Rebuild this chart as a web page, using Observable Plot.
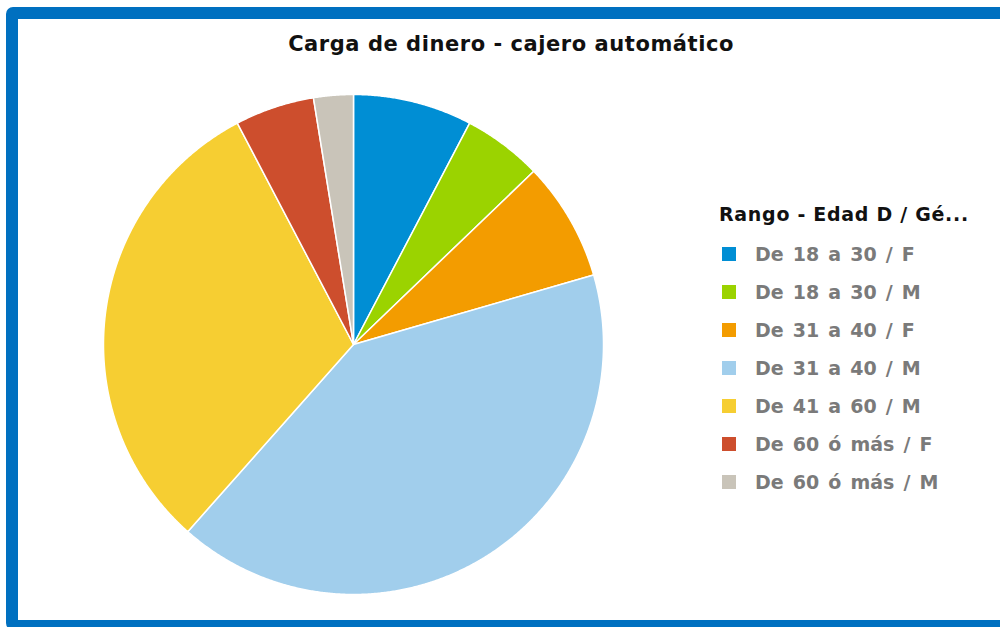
<!DOCTYPE html>
<html>
<head>
<meta charset="utf-8">
<script src="https://cdn.jsdelivr.net/npm/d3@7"></script>
<script src="https://cdn.jsdelivr.net/npm/@observablehq/plot@0.6"></script>
<style>
  html, body { margin: 0; padding: 0; background: #fff; width: 1000px; height: 627px; overflow: hidden; }
  #frame { position: absolute; left: 6px; top: 7px; width: 1010px; height: 601px; border: 12px solid #0070C0; border-bottom-width: 10px; border-radius: 7px; background: #fff; }
  #title { position: absolute; left: 0; width: 1022px; top: 32px; text-align: center; font-family: "DejaVu Sans", sans-serif; font-weight: bold; font-size: 21px; letter-spacing: 0.55px; color: #111; }
  #chart { position: absolute; left: 93px; top: 84px; }
  #legend { position: absolute; left: 719px; top: 202px; font-family: "DejaVu Sans", sans-serif; font-weight: bold; }
  #legend .lt { font-size: 19px; color: #111; height: 24px; line-height: 24px; margin-bottom: 16px; letter-spacing: 0.7px; white-space: nowrap; }
  #legend .it { font-size: 19px; color: #7a7a7a; height: 38px; line-height: 24px; display: flex; align-items: flex-start; word-spacing: 2.5px; white-space: nowrap; }
  #legend .sw { width: 14px; height: 14px; margin: 5px 19px 0 3px; flex: none; }
</style>
</head>
<body>
<div id="frame"></div>
<div id="title">Carga de dinero - cajero automático</div>
<div id="chart"></div>
<div id="legend"></div>
<script>
const categories = ["De 18 a 30 / F", "De 18 a 30 / M", "De 31 a 40 / F", "De 31 a 40 / M", "De 41 a 60 / M", "De 60 ó más / F", "De 60 ó más / M"];
const values = [3, 2, 3, 16, 12, 2, 1];
const colors = ["#008ED4", "#9BD300", "#F39C00", "#A1CEEC", "#F6CE32", "#CD4E2D", "#C9C4B9"];
const legendTitle = "Rango - Edad D / Gé...";

const pie = d3.pie().sort(null).value(d => d.value)(categories.map((c, i) => ({cat: c, value: values[i]})));
const pts = [];
for (const a of pie) {
  const cat = a.data.cat;
  pts.push({cat, x: 0, y: 0});
  const n = Math.max(2, Math.ceil((a.endAngle - a.startAngle) / 0.005));
  for (let k = 0; k <= n; k++) {
    const t = a.startAngle + (a.endAngle - a.startAngle) * k / n;
    pts.push({cat, x: Math.sin(t), y: Math.cos(t)});
  }
}

const chart = Plot.plot({
  width: 520, height: 520,
  margin: 0,
  x: {domain: [-1.04, 1.04], axis: null},
  y: {domain: [-1.04, 1.04], axis: null},
  color: {domain: categories, range: colors},
  marks: [
    Plot.line(pts, {x: "x", y: "y", z: "cat", fill: "cat", stroke: "white", strokeWidth: 1.5, strokeLinejoin: "round", curve: "linear-closed"})
  ]
});
document.getElementById("chart").appendChild(chart);

const lg = document.getElementById("legend");
const t = document.createElement("div"); t.className = "lt"; t.textContent = legendTitle; lg.appendChild(t);
categories.forEach((c, i) => {
  const it = document.createElement("div"); it.className = "it";
  const sw = document.createElement("div"); sw.className = "sw"; sw.style.background = colors[i];
  const tx = document.createElement("span"); tx.textContent = c;
  it.appendChild(sw); it.appendChild(tx); lg.appendChild(it);
});
</script>
</body>
</html>
